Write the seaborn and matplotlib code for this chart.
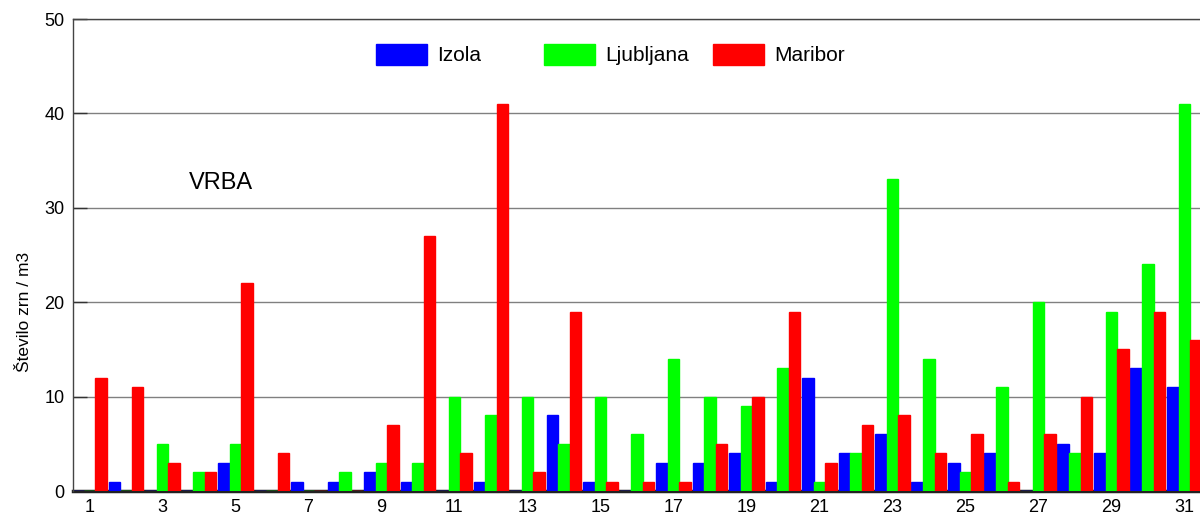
import matplotlib
matplotlib.use("Agg")
import matplotlib.pyplot as plt
import seaborn as sns
import pandas as pd

# Daily pollen counts (grains per m3) for willow, by measuring station
days = list(range(1, 32))
izola = [0, 1, 0, 0, 3, 0, 1, 1, 2, 1, 0, 1, 0, 8, 1, 0, 3, 3, 4, 1,
         12, 4, 6, 1, 3, 4, 0, 5, 4, 13, 11]
ljubljana = [0, 0, 5, 2, 5, 0, 0, 2, 3, 3, 10, 8, 10, 5, 10, 6, 14, 10, 9, 13,
             1, 4, 33, 14, 2, 11, 20, 4, 19, 24, 41]
maribor = [12, 11, 3, 2, 22, 4, 0, 0, 7, 27, 4, 41, 2, 19, 1, 1, 1, 5, 10, 19,
           3, 7, 8, 4, 6, 1, 6, 10, 15, 19, 16]
stations = ["Izola", "Ljubljana", "Maribor"]
colors = ["#0000ff", "#00ff00", "#ff0000"]
tick_days = list(range(1, 32, 2))

df = pd.DataFrame({
    "dan": [str(d) for d in days] * 3,
    "postaja": [s for s in stations for _ in days],
    "vrednost": izola + ljubljana + maribor,
})

sns.set_theme(style="white")
plt.rcParams["font.family"] = ["Liberation Sans", "DejaVu Sans"]

fig = plt.figure(figsize=(12, 5.17), dpi=100)
ax = fig.add_axes([73 / 1200, 26 / 517, 1127 / 1200, 472 / 517])

sns.barplot(data=df, x="dan", y="vrednost", hue="postaja",
            order=[str(d) for d in days], hue_order=stations,
            palette=colors, width=0.95, errorbar=None, saturation=1,
            ax=ax)

# outline each bar in its own colour so zero days still show a thin line
for p in ax.patches:
    p.set_edgecolor(p.get_facecolor())
    p.set_linewidth(1.0)

handles, labels = ax.get_legend_handles_labels()
if ax.get_legend() is not None:
    ax.get_legend().remove()

ax.set_ylim(0, 50)
ax.set_xlim(-0.45, 30.43)
ax.set_yticks(range(0, 51, 10))
ax.set_xticks([d - 1 for d in tick_days])
ax.set_xticklabels([str(d) for d in tick_days])
ax.tick_params(axis="x", length=0, pad=6, labelsize=13, colors="black")
ax.tick_params(axis="y", direction="in", length=10, width=1, pad=6,
               labelsize=13, colors="#333333", labelcolor="black", left=True)

ax.set_axisbelow(True)
ax.yaxis.grid(True, color="#808080", linewidth=1)
ax.xaxis.grid(False)

for side in ["left", "top"]:
    ax.spines[side].set_visible(True)
    ax.spines[side].set_color("#444444")
    ax.spines[side].set_linewidth(1)
ax.spines["right"].set_visible(False)
ax.spines["bottom"].set_color("#222222")
ax.spines["bottom"].set_linewidth(2.5)
ax.spines["bottom"].set_zorder(0.6)

ax.set_xlabel("")
ax.set_ylabel("Število zrn / m3", fontsize=12.5, color="black")
ax.yaxis.set_label_coords(-0.036, 0.38)

fig.text(221 / 1200, 1 - 183 / 517, "VRBA", fontsize=17,
         ha="center", va="center", color="black")

# one legend entry per fixed slot along the top
slots = [376, 544, 713]
for h, lab, x0 in zip(handles, labels, slots):
    leg = fig.legend([h], [lab], loc="center left",
                     bbox_to_anchor=(x0 / 1200, 1 - 54.5 / 517),
                     frameon=False, fontsize=15, borderpad=0,
                     borderaxespad=0, handlelength=2.45, handleheight=1.2,
                     handletextpad=0.5)
    for t in leg.get_texts():
        t.set_color("black")

fig.savefig("out.png", dpi=100)
